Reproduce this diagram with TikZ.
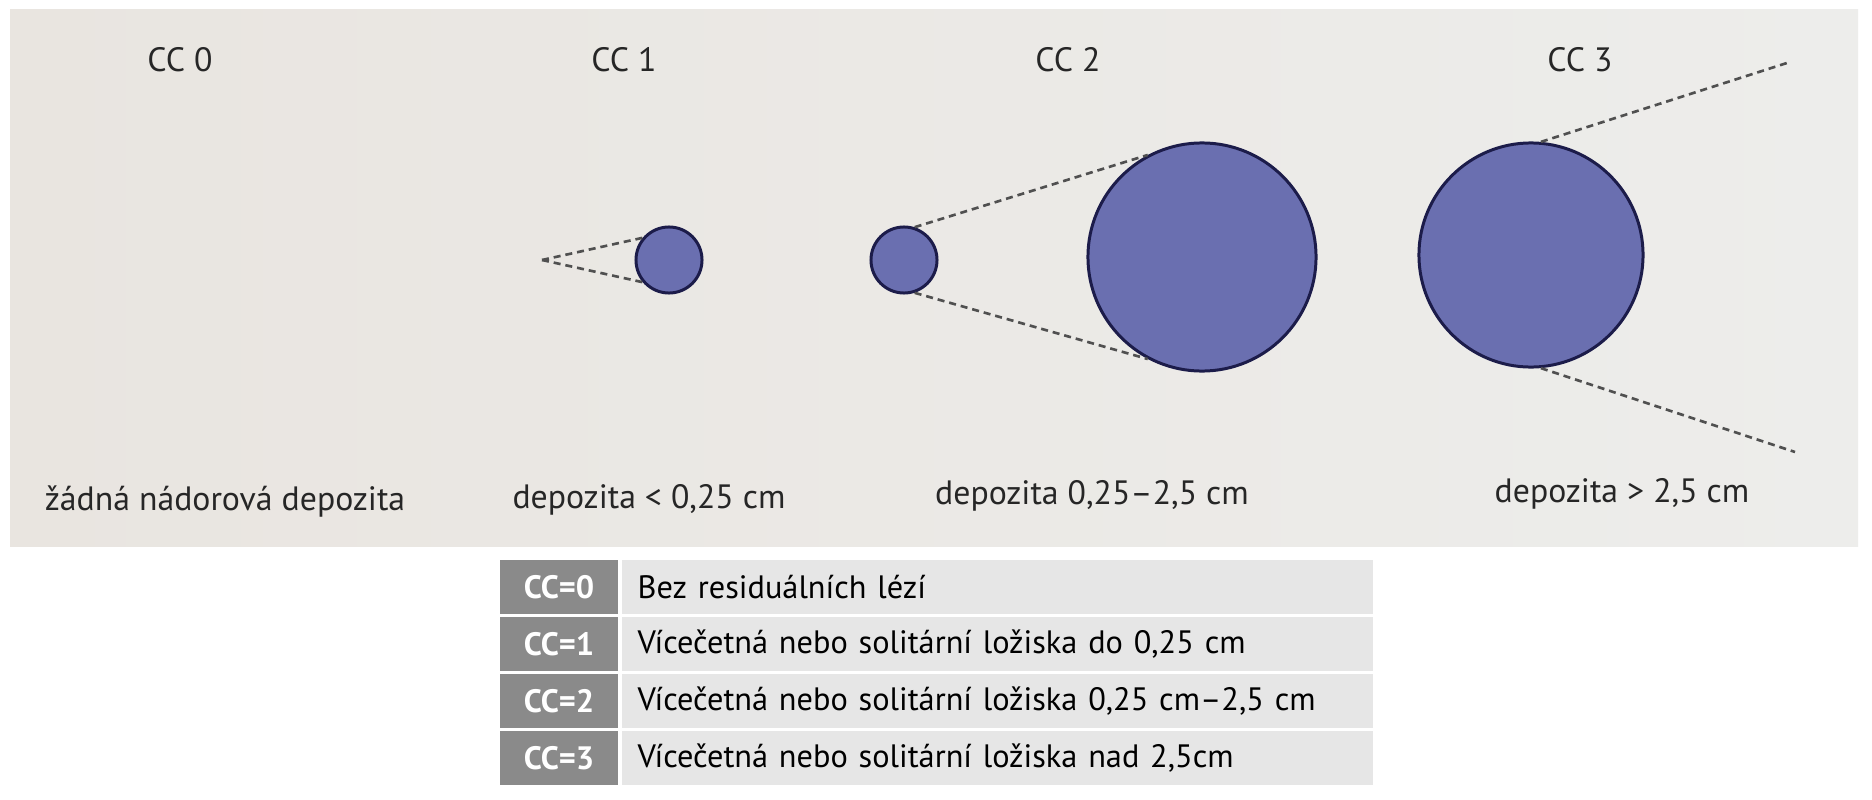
\documentclass[tikz,border=0pt]{standalone}
\usepackage{fontspec}
\setmainfont{PT Sans}
\definecolor{depofill}{RGB}{106,111,176}
\definecolor{depoline}{RGB}{28,28,74}
\definecolor{photoL}{RGB}{233,229,224}
\definecolor{photoR}{RGB}{237,237,235}
\definecolor{keygray}{RGB}{138,138,138}
\definecolor{descgray}{RGB}{230,230,230}
\definecolor{dashgray}{RGB}{80,80,80}
\begin{document}
\begin{tikzpicture}[x=0.01cm, y=-0.01cm,
    depo/.style={circle, fill=depofill, draw=depoline, line width=0.85pt, inner sep=0pt},
    hint/.style={draw=dashgray, line width=0.75pt, dash pattern=on 2pt off 1.4pt},
    lbl/.style={font=\fontsize{9.6}{11}\selectfont, text=black!85, inner sep=0pt},
    keycell/.style={fill=keygray, text=white, font=\fontsize{9.2}{11}\selectfont\bfseries,
      minimum width=1.18cm, minimum height=0.53cm, inner sep=0pt},
    desccell/.style={fill=descgray, anchor=west, font=\fontsize{9.2}{11}\selectfont,
      text width=7.19cm, minimum height=0.53cm, inner xsep=0.16cm, inner ysep=0pt, align=left}]
  % Photo background
  \fill[white] (0,0) rectangle (1872,800);
  \shade[left color=photoL, right color=photoR] (10,9) rectangle (1858,546);
  \useasboundingbox (0,0) rectangle (1872,800);

  % Stage titles
  \foreach \i/\x in {0/180, 1/624, 2/1068, 3/1580} {
    \node[lbl] (title\i) at (\x, 60) {CC \i};
  }

  % Stage captions
  \node[lbl] (cap0) at (225, 502) {žádná nádorová depozita};
  \node[lbl] (cap1) at (649, 500) {depozita < 0,25 cm};
  \node[lbl] (cap2) at (1092, 496) {depozita 0,25–2,5 cm};
  \node[lbl] (cap3) at (1622, 494) {depozita > 2,5 cm};

  % Deposits
  \node[depo, minimum size=0.66cm] (dep1) at (669, 260) {};
  \node[depo, minimum size=0.66cm] (dep2a) at (904, 260) {};
  \node[depo, minimum size=2.28cm] (dep2b) at (1202, 257) {};
  \node[depo, minimum size=2.24cm] (dep3) at (1531, 255) {};

  % Dashed size hints
  \coordinate (tip1) at (542, 260);
  \draw[hint] (tip1) -- (dep1.140);
  \draw[hint] (tip1) -- (dep1.-140);
  \draw[hint] (dep2a.72) -- (dep2b.118);
  \draw[hint] (dep2a.-72) -- (dep2b.-118);
  \coordinate (end3a) at (1790, 62);
  \coordinate (end3b) at (1795, 452);
  \draw[hint] (dep3.85) -- (end3a);
  \draw[hint] (dep3.-85) -- (end3b);

  % Legend table
  \foreach \i/\txt in {0/{Bez residuálních lézí},
      1/{Vícečetná nebo solitární ložiska do 0,25 cm},
      2/{Vícečetná nebo solitární ložiska 0,25 cm–2,5 cm},
      3/{Vícečetná nebo solitární ložiska nad 2,5cm}} {
    \node[keycell] (key\i) at (559, {587+57*\i}) {CC=\i};
    \node[desccell] (desc\i) at (621, {587+57*\i}) {\txt};
  }
\end{tikzpicture}
\end{document}
